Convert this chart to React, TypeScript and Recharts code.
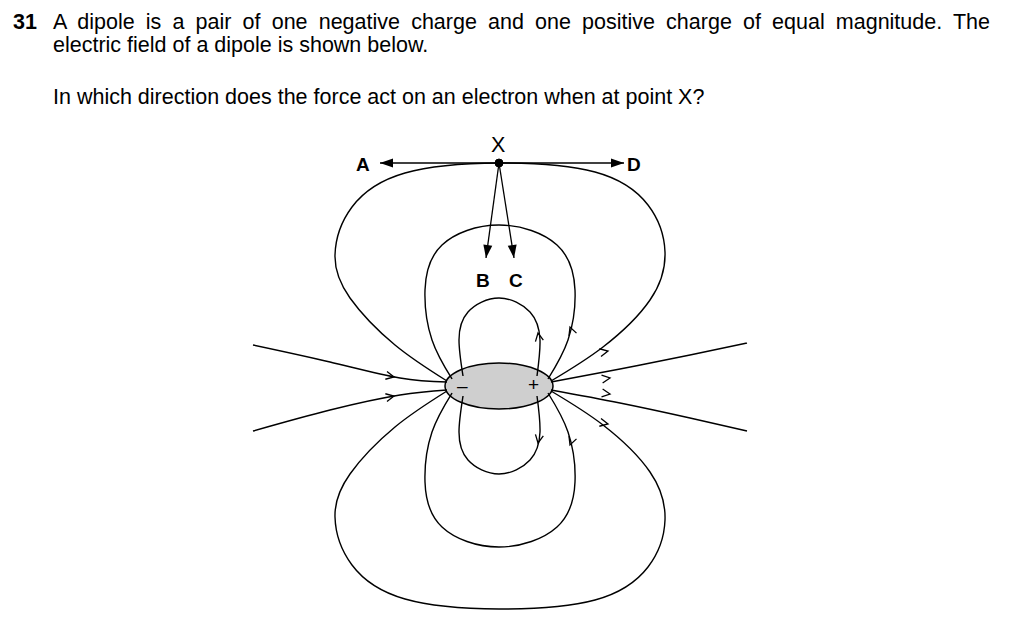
import React from 'react';
import { ComposedChart, Line, Scatter, XAxis, YAxis, ReferenceArea, ReferenceDot } from 'recharts';

type P = { x: number; y: number };
const pts = (a: number[][]): P[] => a.map(([x, y]) => ({ x, y }));
const flip = (a: number[][]) => a.map(([x, y]) => [x, 772 - y]);

// field lines (pixel-like data units)
const outerTop = [[447,381],[395,345],[350,298],[335,255],[352,207],[405,173],[499,163],[595,172],[648,205],[665,252],[650,300],[603,347],[551,381]];
const middleTop = [[452,379],[432,340],[425,290],[442,245],[499,225],[557,245],[575,290],[568,340],[548,379]];
const innerTop = [[463,376],[459,340],[468,312],[499,298],[530,312],[540,340],[537,376]];
const sideLines = [
  [[253,345],[330,362],[400,378],[447,382]],
  [[253,431],[330,410],[400,395],[447,390]],
  [[551,382],[620,369],[690,355],[747,343]],
  [[551,390],[620,403],[690,418],[747,431]],
];
const loops = [outerTop, middleTop, innerTop, flip(outerTop), flip(middleTop), flip(innerTop)];
const pointerLines = [
  [[380,163],[624,163]],
  [[499,163],[486,258]],
  [[499,163],[514,258]],
];
// arrowheads: position and angle in degrees (0 = pointing right)
const solidHeads = [
  { x: 380, y: 163, a: 180 }, { x: 624, y: 163, a: 0 },
  { x: 486, y: 258, a: 98 }, { x: 514, y: 258, a: 82 },
];
const openHeads = [
  { x: 394, y: 377, a: 12 }, { x: 394, y: 396, a: -12 },
  { x: 608, y: 351, a: -12 }, { x: 610, y: 378, a: -8 }, { x: 610, y: 394, a: 8 }, { x: 608, y: 424, a: 12 },
  { x: 538, y: 333, a: -100 }, { x: 570, y: 327, a: -110 },
  { x: 538, y: 443, a: 100 }, { x: 570, y: 445, a: 110 },
];

const Solid = (p: any) => (
  <polygon points="0,0 -13,-4.5 -13,4.5" fill="#000"
    transform={`translate(${p.cx},${p.cy}) rotate(${p.payload.a})`} />
);
const Open = (p: any) => (
  <polyline points="-8,-4 0,0 -8,4" fill="none" stroke="#000" strokeWidth={1.3}
    transform={`translate(${p.cx},${p.cy}) rotate(${p.payload.a})`} />
);

const font = '"Liberation Sans", Arial, sans-serif';
const T = (p: { x: number; y: number; children: any; bold?: boolean; size?: number }) => (
  <div style={{ position: 'absolute', left: p.x, top: p.y, fontSize: p.size ?? 21.5, fontWeight: p.bold ? 700 : 400, lineHeight: 1 }}>
    {p.children}
  </div>
);

export default function App() {
  return (
    <div style={{ position: 'absolute', left: 0, top: 0, width: 1024, height: 622, background: '#fff', fontFamily: font, color: '#000' }}>
      <ComposedChart width={1024} height={622} margin={{ top: 0, right: 0, bottom: 0, left: 0 }}>
        <XAxis type="number" dataKey="x" domain={[0, 1024]} hide allowDataOverflow />
        <YAxis type="number" dataKey="y" domain={[0, 622]} reversed hide allowDataOverflow />
        {[...loops, ...sideLines].map((l, i) => (
          <Line key={'l' + i} data={pts(l)} dataKey="y" type="natural" stroke="#000" strokeWidth={1.4} dot={false} activeDot={false} isAnimationActive={false} />
        ))}
        {pointerLines.map((l, i) => (
          <Line key={'p' + i} data={pts(l)} dataKey="y" type="linear" stroke="#000" strokeWidth={1.3} dot={false} activeDot={false} isAnimationActive={false} />
        ))}
        <ReferenceArea x1={445} x2={553} y1={363} y2={409} ifOverflow="visible"
          shape={(p: any) => (
            <ellipse cx={p.x + p.width / 2} cy={p.y + p.height / 2} rx={p.width / 2} ry={p.height / 2}
              fill="#cfcfcf" stroke="#000" strokeWidth={1.5} />
          )} />
        <Scatter data={solidHeads} dataKey="y" shape={Solid} isAnimationActive={false} />
        <Scatter data={openHeads} dataKey="y" shape={Open} isAnimationActive={false} />
        <ReferenceDot x={499} y={163} r={4} fill="#000" stroke="#000" ifOverflow="visible" />
      </ComposedChart>
      <T x={13} y={12} bold>31</T>
      <div style={{ position: 'absolute', left: 53, top: 12, width: 937, fontSize: 21.5, lineHeight: 1, textAlign: 'justify', textAlignLast: 'justify' }}>
        A dipole is a pair of one negative charge and one positive charge of equal magnitude. The
      </div>
      <T x={53} y={35}>electric field of a dipole is shown below.</T>
      <T x={53} y={87}>In which direction does the force act on an electron when at point X?</T>
      <T x={491} y={135}>X</T>
      <T x={356} y={155} bold size={19}>A</T>
      <T x={627} y={155} bold size={19}>D</T>
      <T x={476} y={271} bold size={19}>B</T>
      <T x={509} y={271} bold size={19}>C</T>
      <T x={457} y={376} size={19}>–</T>
      <T x={528} y={375} size={19}>+</T>
    </div>
  );
}
